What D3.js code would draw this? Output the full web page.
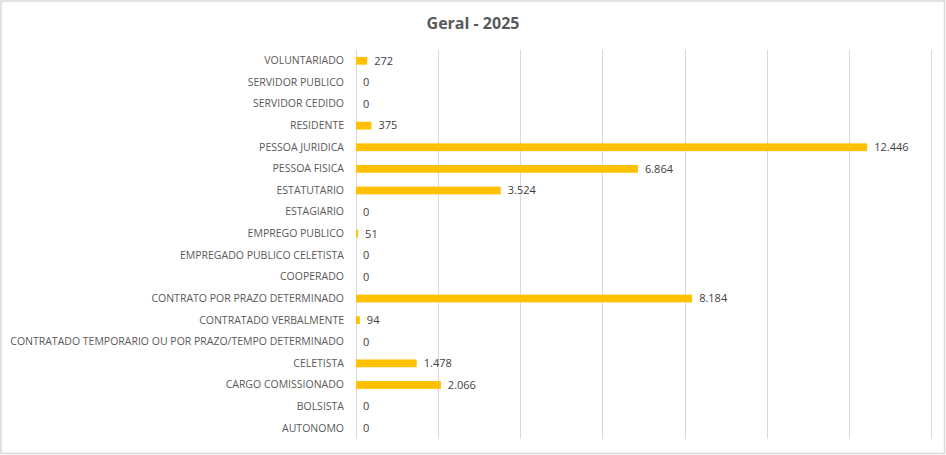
<!DOCTYPE html>
<html><head><meta charset="utf-8">
<script src="https://cdn.jsdelivr.net/npm/d3@7"></script>
<style>body{margin:0;background:#fff;} svg{display:block;}</style>
</head><body>
<svg id="chart" width="946" height="455"></svg>
<script>
const categories = ["VOLUNTARIADO","SERVIDOR PUBLICO","SERVIDOR CEDIDO","RESIDENTE","PESSOA JURIDICA","PESSOA FISICA","ESTATUTARIO","ESTAGIARIO","EMPREGO PUBLICO","EMPREGADO PUBLICO CELETISTA","COOPERADO","CONTRATO POR PRAZO DETERMINADO","CONTRATADO VERBALMENTE","CONTRATADO TEMPORARIO OU POR PRAZO/TEMPO DETERMINADO","CELETISTA","CARGO COMISSIONADO","BOLSISTA","AUTONOMO"];
const values = [272,0,0,375,12446,6864,3524,0,51,0,0,8184,94,0,1478,2066,0,0];
const gridTicks = [0,2000,4000,6000,8000,10000,12000,14000];
const title = "Geral - 2025";

const svg = d3.select("#chart");
const W = 946, H = 455;
const m = {left:356, right:15, top:50, bottom:16};
const font = "'Open Sans', Lato, sans-serif";

svg.append("rect").attr("x",1).attr("y",1).attr("width",W-2.5).attr("height",H-2.5)
  .attr("fill","#fff").attr("stroke","#D9D9D9").attr("stroke-width",1.5);

const x = d3.scaleLinear().domain([0,14000]).range([m.left, W-m.right]);
const y = d3.scaleBand().domain(categories).range([m.top, H-m.bottom]).paddingInner(0.64).paddingOuter(0.32);

const loc = d3.formatLocale({decimal:",",thousands:".",grouping:[3],currency:["",""]});
const fmt = loc.format(",d");

// gridlines
svg.append("g").selectAll("line").data(gridTicks).join("line")
  .attr("x1",d=>Math.round(x(d))+0.5).attr("x2",d=>Math.round(x(d))+0.5)
  .attr("y1",m.top).attr("y2",H-m.bottom)
  .attr("stroke","#D9D9D9").attr("stroke-width",1);

// bars
svg.append("g").selectAll("rect").data(values).join("rect")
  .attr("x",x(0)).attr("y",(d,i)=>y(categories[i]))
  .attr("width",d=>x(d)-x(0)).attr("height",y.bandwidth())
  .attr("fill","#FFC000");

// category labels
const yAxis = d3.axisLeft(y).tickSize(0).tickPadding(12);
const ga = svg.append("g").attr("transform",`translate(${m.left},0)`).call(yAxis);
ga.select(".domain").remove();
const labels = ga.selectAll("text").attr("font-family",font).attr("font-size","11px").attr("fill","#595959");
// fit the longest label to the available width (~334px)
let maxW = 0;
labels.each(function(){ maxW = Math.max(maxW, this.getComputedTextLength()); });
const fs = Math.min(11.5, 11 * 334 / maxW);
labels.attr("font-size", fs + "px");

// value labels
svg.append("g").selectAll("text").data(values).join("text")
  .attr("x",d=>x(d)+7).attr("y",(d,i)=>y(categories[i])+y.bandwidth()/2)
  .attr("dy","0.35em")
  .attr("font-family",font).attr("font-size","11px").attr("fill","#404040")
  .text(d=>fmt(d));

svg.append("text").attr("x",473).attr("y",29).attr("text-anchor","middle")
  .attr("font-family",font).attr("font-size","16px").attr("font-weight","bold").attr("fill","#595959")
  .text(title);
</script>
</body></html>
